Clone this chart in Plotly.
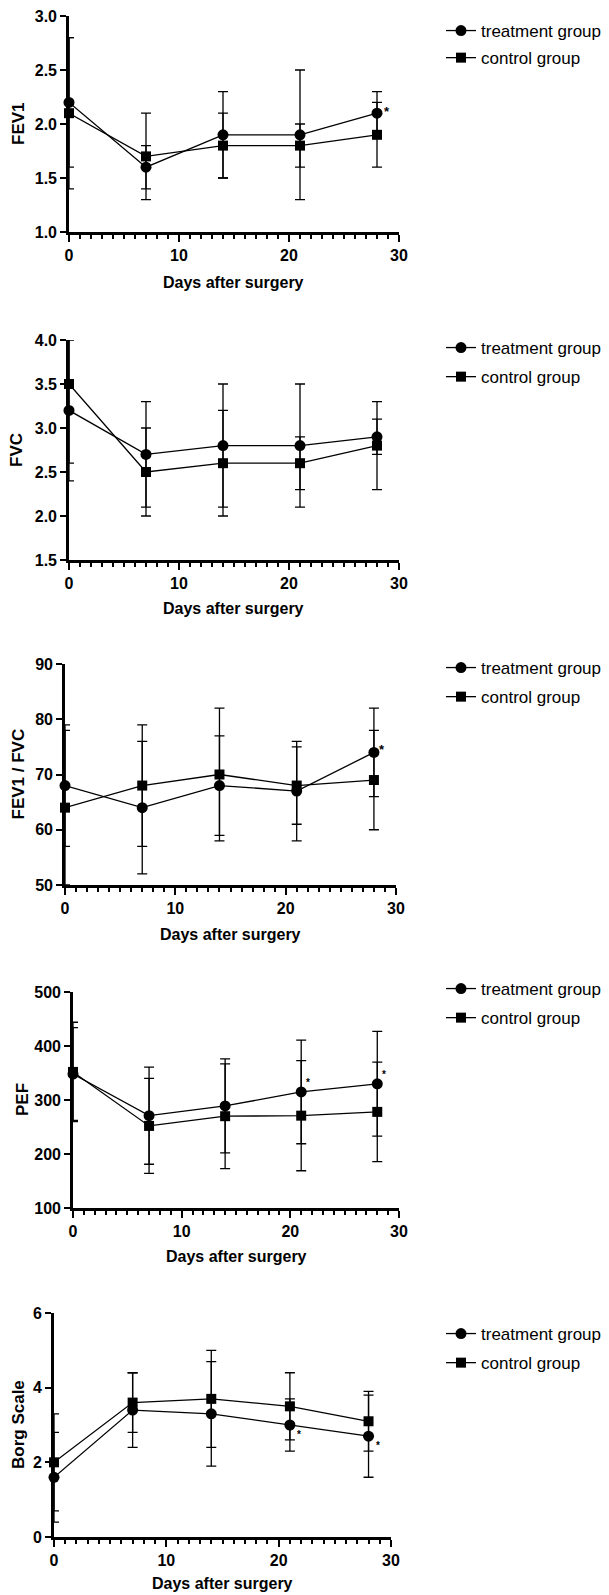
import plotly.graph_objects as go

# ---------------- data ----------------
days = [0, 7, 14, 21, 28]

fev1_treat = [2.2, 1.6, 1.9, 1.9, 2.1]
fev1_treat_err = [0.6, 0.2, 0.4, 0.6, 0.2]
fev1_ctrl = [2.1, 1.7, 1.8, 1.8, 1.9]
fev1_ctrl_err = [0.7, 0.4, 0.3, 0.2, 0.3]

fvc_treat = [3.2, 2.7, 2.8, 2.8, 2.9]
fvc_treat_err = [0.8, 0.6, 0.7, 0.7, 0.2]
fvc_ctrl = [3.5, 2.5, 2.6, 2.6, 2.8]
fvc_ctrl_err = [0.9, 0.5, 0.6, 0.3, 0.5]

ratio_treat = [68, 64, 68, 67, 74]
ratio_treat_err = [11, 12, 9, 9, 8]
ratio_ctrl = [64, 68, 70, 68, 69]
ratio_ctrl_err = [14, 11, 12, 7, 9]

pef_treat = [348, 271, 289, 315, 330]
pef_treat_err = [86, 90, 87, 96, 97]
pef_ctrl = [352, 252, 270, 271, 278]
pef_ctrl_err = [92, 88, 97, 102, 92]

borg_treat = [1.6, 3.4, 3.3, 3.0, 2.7]
borg_treat_err = [1.2, 1.0, 1.4, 0.7, 1.1]
borg_ctrl = [2.0, 3.6, 3.7, 3.5, 3.1]
borg_ctrl_err = [1.3, 0.8, 1.3, 0.9, 0.8]

y_titles = ["FEV1", "FVC", "FEV1 / FVC", "PEF", "Borg Scale"]
x_title = "Days after surgery"
legend_names = ["treatment group", "control group"]
x_range = [0, 30]
x_major_step = 10
x_minor_step = 1

# significance marks: days with a star next to the treatment point
star_days = [[28], [], [28], [21, 28], [21, 28]]

# ---------------- layout constants ----------------
W, H = 609, 1595
FONT = "Liberation Sans, Arial, sans-serif"

panels = [
    dict(t=fev1_treat, te=fev1_treat_err, c=fev1_ctrl, ce=fev1_ctrl_err,
         px=(69, 399), py=(16, 232), yr=(1.0, 3.0), dt=0.5, fmt=".1f",
         ytx=19, leg=13, gap=2, xt=51, clip=False, star=(10, 2, 13)),
    dict(t=fvc_treat, te=fvc_treat_err, c=fvc_ctrl, ce=fvc_ctrl_err,
         px=(69, 399), py=(340, 560), yr=(1.5, 4.0), dt=0.5, fmt=".1f",
         ytx=17, leg=330, gap=4, xt=48, clip=True, star=(10, 2, 13)),
    dict(t=ratio_treat, te=ratio_treat_err, c=ratio_ctrl, ce=ratio_ctrl_err,
         px=(65, 396), py=(664, 885), yr=(50, 90), dt=10, fmt="d",
         ytx=18, leg=650, gap=4, xt=50, clip=False, star=(8, 3, 13)),
    dict(t=pef_treat, te=pef_treat_err, c=pef_ctrl, ce=pef_ctrl_err,
         px=(73, 399), py=(992, 1208), yr=(100, 500), dt=100, fmt="d",
         ytx=22, leg=971, gap=4, xt=48, clip=False, star=(7, 9, 10)),
    dict(t=borg_treat, te=borg_treat_err, c=borg_ctrl, ce=borg_ctrl_err,
         px=(54, 391), py=(1313, 1537), yr=(0, 6), dt=2, fmt="d",
         ytx=18, leg=1316, gap=4, xt=46, clip=False, star=(9, -9, 10)),
]

fig = go.Figure()
annotations = []
layout = dict(
    width=W, height=H, autosize=False,
    margin=dict(l=0, r=0, t=0, b=0, pad=0, autoexpand=False),
    paper_bgcolor="white", plot_bgcolor="white",
    font=dict(family=FONT, color="black"),
    showlegend=True,
)

for i, p in enumerate(panels):
    n = i + 1
    sfx = "" if n == 1 else str(n)
    xa, ya = "x" + sfx, "y" + sfx
    leg = "legend" + sfx

    series = [
        (legend_names[0], p["t"], p["te"], "circle", 11),
        (legend_names[1], p["c"], p["ce"], "square", 10),
    ]
    for name, vals, errs, sym, size in series:
        # error bars (own trace so they can be clipped to the plot area)
        fig.add_trace(go.Scatter(
            x=days, y=vals, mode="markers",
            marker=dict(size=1, color="rgba(0,0,0,0)"),
            error_y=dict(type="data", array=errs, visible=True,
                         color="black", thickness=1.3, width=5),
            xaxis=xa, yaxis=ya, showlegend=False, hoverinfo="skip",
            cliponaxis=p["clip"],
        ))
    for k, (name, vals, errs, sym, size) in enumerate(series):
        fig.add_trace(go.Scatter(
            x=days, y=vals, mode="lines+markers", name=name,
            line=dict(color="black", width=1.3),
            marker=dict(symbol=sym, size=size, color="black"),
            xaxis=xa, yaxis=ya, legend=leg, legendgroup=f"g{n}_{k}",
            cliponaxis=False,
        ))

    x0, x1 = p["px"]
    ytop, ybot = p["py"]
    layout["xaxis" + sfx] = dict(
        domain=[x0 / W, x1 / W], anchor=ya, range=x_range, automargin=False,
        tickmode="linear", tick0=0, dtick=x_major_step,
        ticks="outside", ticklen=7, tickwidth=2.2,
        tickcolor="black", showline=True, linecolor="black", linewidth=2.6,
        showgrid=False, zeroline=False,
        tickfont=dict(family=FONT, size=16, color="black", weight="bold"),
        minor=dict(tickmode="linear", tick0=0, dtick=x_minor_step,
                   ticks="outside", ticklen=4, tickwidth=2.2,
                   tickcolor="black", showgrid=False),
    )
    layout["yaxis" + sfx] = dict(
        domain=[1 - ybot / H, 1 - ytop / H], anchor=xa, automargin=False,
        range=list(p["yr"]), tickmode="linear", dtick=p["dt"], tick0=p["yr"][0],
        tickformat=p["fmt"], ticks="outside", ticklen=6, tickwidth=2.2,
        tickcolor="black", showline=True, linecolor="black", linewidth=2.6,
        showgrid=False, zeroline=False,
        tickfont=dict(family=FONT, size=16, color="black", weight="bold"),
    )
    layout[leg] = dict(
        x=441 / W, y=1 - p["leg"] / H, xanchor="left", yanchor="top",
        bgcolor="rgba(0,0,0,0)", borderwidth=0,
        font=dict(family=FONT, size=17, color="black"),
        itemwidth=30, tracegroupgap=p["gap"],
    )
    # axis titles
    annotations.append(dict(
        text=x_title, xref="paper", yref="paper",
        x=(x0 + x1) / 2 / W, y=1 - (ybot + p["xt"]) / H,
        xanchor="center", yanchor="middle", showarrow=False,
        font=dict(family=FONT, size=16, color="black", weight="bold"),
    ))
    annotations.append(dict(
        text=y_titles[i], xref="paper", yref="paper",
        x=p["ytx"] / W, y=1 - (ytop + ybot) / 2 / H, textangle=-90,
        xanchor="center", yanchor="middle", showarrow=False,
        font=dict(family=FONT, size=17, color="black", weight="bold"),
    ))
    dx, dy, fs = p["star"]
    for d in star_days[i]:
        annotations.append(dict(
            text="*", xref=xa, yref=ya, x=d, y=p["t"][days.index(d)],
            xshift=dx, yshift=dy, showarrow=False,
            font=dict(family=FONT, size=fs, color="black", weight="bold"),
        ))

layout["annotations"] = annotations
fig.update_layout(**layout)
fig.write_html(
    "out.html",
    config={"displayModeBar": False},
    post_script="document.body.style.margin='0';document.body.style.overflow='hidden';",
)
